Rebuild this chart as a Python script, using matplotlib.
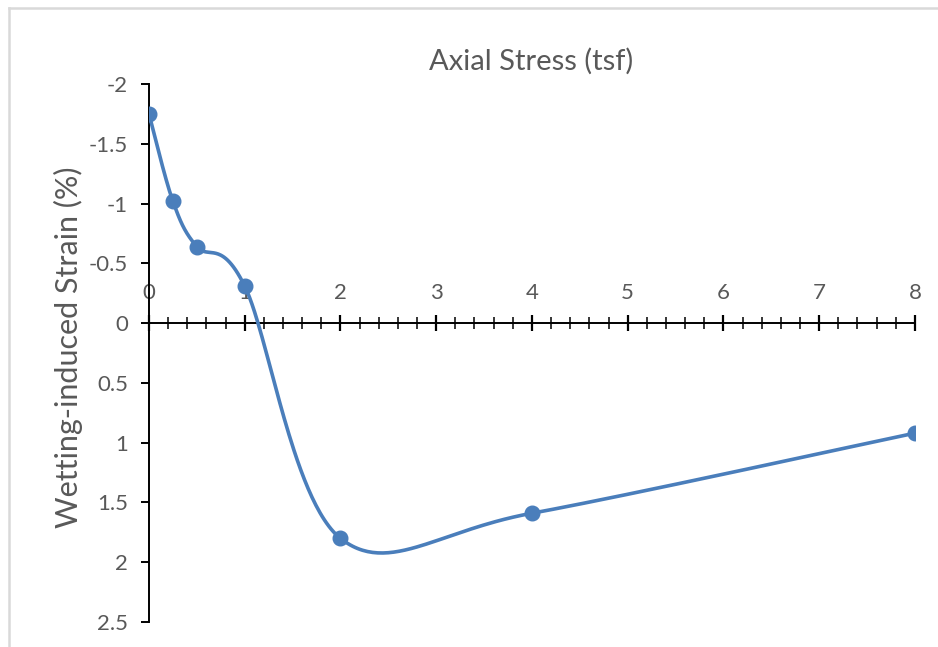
import matplotlib.pyplot as plt
import numpy as np
from matplotlib.lines import Line2D

stress = [0, 0.25, 0.5, 1, 2, 4, 8]
strain = [-1.75, -1.02, -0.64, -0.31, 1.80, 1.59, 0.92]
x_ticks = [0, 1, 2, 3, 4, 5, 6, 7, 8]
y_ticks = [-2, -1.5, -1, -0.5, 0, 0.5, 1, 1.5, 2, 2.5]

BLUE = "#4a7ebb"
GREY = "#595959"


def smooth_curve(xs, ys, n=60):
    # Excel style smoothed line: Bezier segments with Catmull-Rom control points
    pts = np.column_stack([xs, ys]).astype(float)
    padded = np.vstack([pts[0], pts, pts[-1]])
    out = []
    t = np.linspace(0, 1, n)[:, None]
    for i in range(len(pts) - 1):
        p0, p1, p2, p3 = padded[i], padded[i + 1], padded[i + 2], padded[i + 3]
        b1 = p1 + (p2 - p0) / 6
        b2 = p2 - (p3 - p1) / 6
        seg = (1 - t) ** 3 * p1 + 3 * (1 - t) ** 2 * t * b1 + 3 * (1 - t) * t ** 2 * b2 + t ** 3 * p2
        out.append(seg if i == 0 else seg[1:])
    curve = np.vstack(out)
    return curve[:, 0], curve[:, 1]


plt.rcParams["font.family"] = ["Lato", "DejaVu Sans"]
fig = plt.figure(figsize=(9.38, 6.47), dpi=100)
ax = fig.add_axes([0.1588, 0.0386, 0.8166, 0.8315])

cx, cy = smooth_curve(stress, strain)
ax.plot(cx, cy, color=BLUE, linewidth=2.6, zorder=3)
ax.plot(stress, strain, "o", color=BLUE, markersize=10.5, zorder=4)

ax.set_xlim(0, 8)
ax.set_ylim(2.5, -2)

# x axis crossing at zero, labels above it
for side in ["bottom", "right"]:
    ax.spines[side].set_visible(False)
ax.spines["top"].set_position(("data", 0))
ax.spines["top"].set_linewidth(1.4)
ax.spines["left"].set_linewidth(1.4)
ax.xaxis.tick_top()
ax.set_xticks(x_ticks)
ax.set_xticks(np.arange(0, 8.01, 0.2), minor=True)
ax.tick_params(axis="x", which="major", direction="inout", length=11, width=1.6,
               pad=9, labelsize=16, labelcolor=GREY)
ax.tick_params(axis="x", which="minor", direction="inout", length=9, width=1.1)

ax.set_yticks(y_ticks)
ax.set_yticklabels([f"{v:g}" for v in y_ticks])
ax.tick_params(axis="y", direction="out", length=6, width=1.4, pad=9,
               labelsize=16, labelcolor=GREY)

ax.set_ylabel("Wetting-induced Strain (%)", fontsize=22, color=GREY)
ax.yaxis.set_label_coords(-0.086, 0.511)
fig.text(0.5665, 0.905, "Axial Stress (tsf)", ha="center", va="center",
         fontsize=21, color=GREY)

# light grey chart-area border (top and left edges visible)
fig.add_artist(Line2D([8.5 / 938, 1.0], [1 - 7.5 / 647, 1 - 7.5 / 647],
                      color="#d9d9d9", linewidth=1.8))
fig.add_artist(Line2D([8.5 / 938, 8.5 / 938], [0, 1 - 7.5 / 647],
                      color="#d9d9d9", linewidth=1.8))

fig.savefig("out.png", dpi=100)
